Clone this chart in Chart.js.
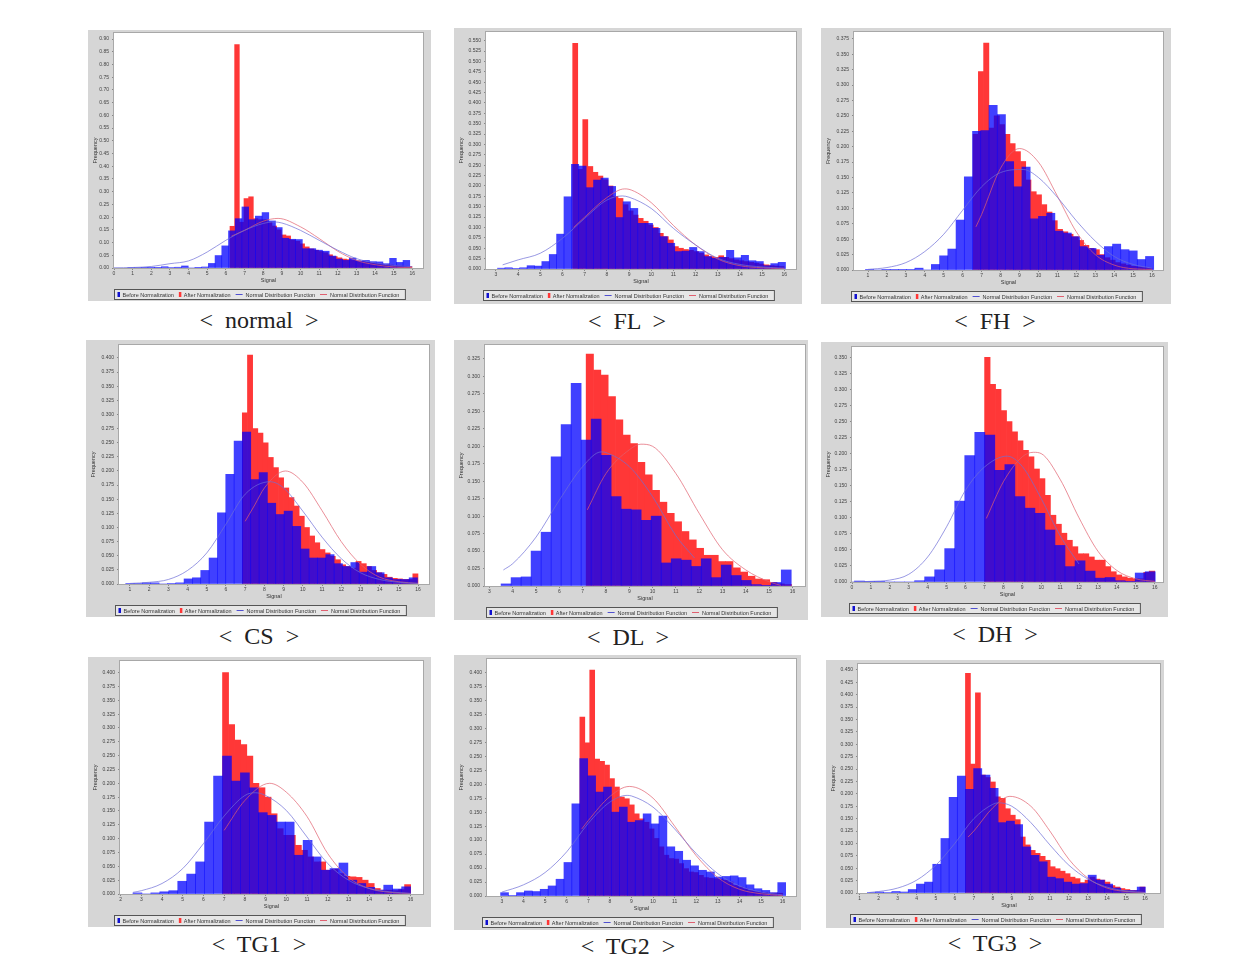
<!DOCTYPE html>
<html>
<head>
<meta charset="utf-8">
<script src="https://cdn.jsdelivr.net/npm/chart.js@4.4.1/dist/chart.umd.min.js"></script>
<style>
  body { margin: 0; background: #fff; width: 1245px; height: 970px; position: relative; overflow: hidden; }
  .panel { position: absolute; background: #d6d6d6; }
  .panel canvas { display: block; }
  .caption {
    position: absolute; transform: translateX(-50%); white-space: nowrap;
    font-family: "Liberation Serif", "Times New Roman", serif; font-size: 24px; line-height: 26px;
    color: #222; word-spacing: 6px;
  }
</style>
</head>
<body>
<script>
// ---- data ----
const seriesLabels = ['Before Normalization', 'After Normalization', 'Normal Distribution Function', 'Normal Distribution Function'];
const panelNames = ['normal', 'FL', 'FH', 'CS', 'DL', 'DH', 'TG1', 'TG2', 'TG3'];
const xTickValues = [0, 1, 2, 3, 4, 5, 6, 7, 8, 9, 10, 11, 12, 13, 14, 15, 16];
const yTicks05 = [0, 0.05, 0.1, 0.15, 0.2, 0.25, 0.3, 0.35, 0.4, 0.45, 0.5, 0.55, 0.6, 0.65, 0.7, 0.75, 0.8, 0.85, 0.9];
const yTicks025 = [0, 0.025, 0.05, 0.075, 0.1, 0.125, 0.15, 0.175, 0.2, 0.225, 0.25, 0.275, 0.3, 0.325, 0.35, 0.375, 0.4, 0.425, 0.45, 0.475, 0.5, 0.525, 0.55];

// bins: [before start, before width, after start, after width]
const normalBins = [0.74, 0.36, 6.22, 0.25];
const normalBefore = [0.002, 0.002, 0.001, 0.003, 0.001, 0.005, 0.002, 0.003, 0.008, 0, 0.001, 0.004, 0.018, 0.049, 0.087, 0.146, 0.194, 0.24, 0.19, 0.204, 0.218, 0.185, 0.159, 0.117, 0.113, 0.112, 0.076, 0.076, 0.07, 0.066, 0.047, 0.035, 0.03, 0.039, 0.028, 0.03, 0.025, 0.024, 0.017, 0.038, 0.022, 0.03];
const normalAfter = [0.164, 0.878, 0.18, 0.273, 0.28, 0.194, 0.19, 0.19, 0.18, 0.165, 0.15, 0.13, 0.126, 0.11, 0.105, 0.095, 0.083, 0.075, 0.07, 0.065, 0.06, 0.052, 0.045, 0.04, 0.035, 0.033, 0.03, 0.028, 0.025, 0.022, 0.02, 0.018, 0.015, 0.013, 0.012, 0.01, 0.008, 0.007, 0.006];
const normalCurveBefore = [[0, 0.001], [1, 0.002], [2, 0.006], [3, 0.017], [4, 0.028], [5, 0.063], [6, 0.109], [7, 0.148], [8, 0.175], [8.6, 0.181], [9, 0.177], [10, 0.148], [11, 0.109], [12, 0.07], [13, 0.037], [14, 0.02], [15, 0.01], [16, 0.005]];
const normalCurveAfter = [[6.3, 0.125], [7, 0.148], [8, 0.184], [8.8, 0.195], [10, 0.162], [11, 0.116], [12, 0.066], [13, 0.03], [14, 0.013], [15, 0.004], [16, 0.001]];

const flBins = [3.07, 0.333, 6.46, 0.227];
const flBefore = [0.002, 0.003, 0.001, 0.003, 0.008, 0.007, 0.018, 0.035, 0.084, 0.174, 0.252, 0.248, 0.196, 0.214, 0.219, 0.199, 0.124, 0.162, 0.146, 0.11, 0.11, 0.098, 0.078, 0.062, 0.042, 0.043, 0.052, 0.042, 0.03, 0.026, 0.028, 0.045, 0.027, 0.033, 0.02, 0.018, 0.008, 0.013, 0.016];
const flAfter = [0.544, 0.24, 0.36, 0.247, 0.233, 0.224, 0.215, 0.2, 0.175, 0.17, 0.155, 0.14, 0.13, 0.122, 0.115, 0.106, 0.1, 0.086, 0.078, 0.07, 0.054, 0.05, 0.047, 0.045, 0.042, 0.038, 0.034, 0.03, 0.028, 0.032, 0.028, 0.025, 0.022, 0.02, 0.018, 0.016, 0.014, 0.012, 0.01, 0.008, 0.007, 0.006];
const flCurveBefore = [[3.3, 0.01], [4, 0.022], [5, 0.038], [6, 0.074], [7, 0.122], [8, 0.166], [8.7, 0.176], [9, 0.173], [10, 0.146], [11, 0.098], [12, 0.058], [13, 0.026], [14, 0.011], [15, 0.005], [16, 0.002]];
const flCurveAfter = [[6.5, 0.1], [7, 0.125], [8, 0.172], [8.8, 0.193], [9, 0.192], [10, 0.16], [11, 0.105], [12, 0.058], [13, 0.024], [14, 0.008], [15, 0.003], [16, 0.001]];

const fhBins = [0.865, 0.435, 6.55, 0.278];
const fhBefore = [0.001, 0, 0.001, 0.001, 0.001, 0.001, 0.003, 0, 0.009, 0.023, 0.034, 0.081, 0.151, 0.225, 0.226, 0.267, 0.252, 0.176, 0.135, 0.167, 0.083, 0.087, 0.092, 0.063, 0.06, 0.054, 0.038, 0.035, 0.024, 0.038, 0.042, 0.033, 0.031, 0.017, 0.022];
const fhAfter = [0.22, 0.322, 0.368, 0.23, 0.25, 0.236, 0.22, 0.205, 0.192, 0.176, 0.146, 0.127, 0.122, 0.106, 0.094, 0.08, 0.066, 0.062, 0.058, 0.054, 0.048, 0.04, 0.035, 0.033, 0.025, 0.02, 0.016, 0.012, 0.01, 0.008, 0.006, 0.005, 0.004, 0.003];
const fhCurveBefore = [[1, 0.001], [2, 0.004], [3, 0.012], [4, 0.03], [5, 0.058], [6, 0.097], [7, 0.135], [8, 0.158], [9.2, 0.163], [10, 0.15], [11, 0.118], [12, 0.08], [13, 0.047], [14, 0.022], [15, 0.009], [16, 0.003]];
const fhCurveAfter = [[6.7, 0.07], [7, 0.09], [8, 0.165], [9, 0.197], [10, 0.175], [11, 0.12], [12, 0.062], [13, 0.025], [14, 0.008], [15, 0.002], [16, 0.001]];

const csBins = [0.78, 0.434, 6.85, 0.269];
const csBefore = [0.001, 0.001, 0.002, 0.002, 0, 0.001, 0.002, 0.009, 0.011, 0.024, 0.046, 0.126, 0.194, 0.253, 0.269, 0.185, 0.197, 0.143, 0.123, 0.129, 0.102, 0.062, 0.046, 0.046, 0.052, 0.036, 0.031, 0.038, 0.021, 0.031, 0.02, 0.011, 0.008, 0.008, 0.011];
const csAfter = [0.303, 0.405, 0.275, 0.267, 0.25, 0.224, 0.206, 0.188, 0.17, 0.153, 0.138, 0.12, 0.1, 0.085, 0.073, 0.061, 0.055, 0.049, 0.043, 0.034, 0.031, 0.028, 0.04, 0.036, 0.031, 0.024, 0.02, 0.017, 0.012, 0.01, 0.009, 0.008, 0.008, 0.018];
const csCurveBefore = [[1, 0.001], [2, 0.003], [3, 0.008], [4, 0.024], [5, 0.055], [6, 0.106], [7, 0.159], [8.3, 0.181], [9, 0.17], [10, 0.129], [11, 0.083], [12, 0.045], [13, 0.02], [14, 0.008], [15, 0.003], [16, 0.001]];
const csCurveAfter = [[7, 0.111], [7.5, 0.14], [8, 0.17], [9.1, 0.2], [10, 0.18], [11, 0.13], [12, 0.075], [13, 0.035], [14, 0.012], [15, 0.004], [16, 0.001]];

const dlBins = [3.5, 0.4293, 7.15, 0.315];
const dlBefore = [0.003, 0.012, 0.013, 0.05, 0.077, 0.185, 0.231, 0.29, 0.209, 0.239, 0.187, 0.128, 0.11, 0.109, 0.094, 0.1, 0.033, 0.039, 0.037, 0.028, 0.039, 0.012, 0.03, 0.015, 0.008, 0.002, 0.001, 0.005, 0.023];
const dlAfter = [0.332, 0.309, 0.302, 0.271, 0.238, 0.216, 0.204, 0.177, 0.159, 0.137, 0.12, 0.104, 0.092, 0.078, 0.066, 0.054, 0.044, 0.044, 0.035, 0.035, 0.026, 0.02, 0.014, 0.01, 0.009, 0.005, 0.003, 0.002];
const dlCurveBefore = [[3.6, 0.023], [4, 0.032], [5, 0.07], [6, 0.123], [7, 0.171], [7.8, 0.192], [8, 0.191], [9, 0.171], [10, 0.128], [11, 0.072], [11.8, 0.04]];
const dlCurveAfter = [[7.2, 0.109], [8, 0.161], [9, 0.195], [9.5, 0.203], [10, 0.2], [11, 0.161], [12, 0.104], [13, 0.052], [14, 0.023], [15, 0.006], [15.5, 0.001]];

const dhBins = [0.13, 0.53, 7.01, 0.29];
const dhBefore = [0.0015, 0.001, 0.001, 0, 0, 0, 0.002, 0.008, 0.019, 0.052, 0.126, 0.197, 0.233, 0.229, 0.174, 0.183, 0.133, 0.115, 0.107, 0.081, 0.057, 0.024, 0.033, 0.017, 0.006, 0.007, 0.002, 0.001, 0.014, 0.016];
const dhAfter = [0.35, 0.308, 0.3, 0.267, 0.25, 0.234, 0.22, 0.205, 0.195, 0.176, 0.161, 0.135, 0.104, 0.09, 0.076, 0.065, 0.055, 0.044, 0.044, 0.039, 0.034, 0.034, 0.024, 0.016, 0.011, 0.008, 0.006, 0.005, 0.005, 0.015, 0.017];
const dhCurveBefore = [[0, 0], [1, 0.001], [2, 0.003], [3, 0.012], [4, 0.039], [5, 0.086], [6, 0.143], [7, 0.179], [8.2, 0.196], [9, 0.18], [10, 0.13], [11, 0.072], [12, 0.028]];
const dhCurveAfter = [[7.1, 0.099], [8, 0.156], [9, 0.195], [9.6, 0.202], [10, 0.2], [11, 0.16], [12, 0.1], [13, 0.048], [14, 0.018], [15, 0.005], [16, 0.001]];

const tg1Bins = [2.596, 0.4324, 6.92, 0.293];
const tg1Before = [0.002, 0, 0.002, 0.004, 0.006, 0.023, 0.036, 0.058, 0.13, 0.213, 0.249, 0.204, 0.219, 0.192, 0.147, 0.142, 0.13, 0.13, 0.07, 0.097, 0.067, 0.043, 0.046, 0.056, 0.025, 0.019, 0.012, 0.007, 0.016, 0.009, 0.013];
const tg1After = [0.4, 0.306, 0.278, 0.27, 0.249, 0.2, 0.192, 0.175, 0.145, 0.118, 0.106, 0.106, 0.088, 0.079, 0.067, 0.058, 0.058, 0.043, 0.045, 0.037, 0.032, 0.031, 0.03, 0.025, 0.019, 0.01, 0.007, 0.007, 0.006, 0.008, 0.017];
const tg1CurveBefore = [[2.6, 0.003], [3, 0.006], [4, 0.019], [5, 0.046], [6, 0.091], [7, 0.141], [8, 0.178], [8.5, 0.183], [9, 0.178], [10, 0.151], [11, 0.103], [12, 0.055], [13, 0.025], [14, 0.01], [15, 0.004], [16, 0.001]];
const tg1CurveAfter = [[7, 0.115], [8, 0.169], [9.2, 0.2], [10, 0.184], [11, 0.14], [12, 0.073], [13, 0.03], [14, 0.01], [15, 0.003], [16, 0.001]];

const tg2Bins = [2.94, 0.3667, 6.61, 0.229];
const tg2Before = [0.006, 0.001, 0.006, 0.009, 0.008, 0.012, 0.018, 0.03, 0.06, 0.165, 0.246, 0.215, 0.186, 0.195, 0.15, 0.159, 0.132, 0.135, 0.147, 0.129, 0.143, 0.088, 0.08, 0.064, 0.054, 0.046, 0.043, 0.034, 0.035, 0.036, 0.033, 0.02, 0.013, 0.01, 0.006, 0.024];
const tg2After = [0.32, 0.274, 0.404, 0.245, 0.241, 0.234, 0.21, 0.195, 0.177, 0.174, 0.163, 0.147, 0.138, 0.132, 0.12, 0.103, 0.088, 0.073, 0.067, 0.066, 0.058, 0.049, 0.043, 0.042, 0.037, 0.033, 0.032, 0.031, 0.03, 0.028, 0.025, 0.019, 0.016, 0.013, 0.01, 0.008, 0.007, 0.006, 0.005, 0.005, 0.005];
const tg2CurveBefore = [[3, 0.007], [4, 0.02], [5, 0.042], [6, 0.079], [7, 0.13], [8, 0.168], [8.8, 0.18], [9, 0.179], [10, 0.159], [11, 0.12], [12, 0.076], [13, 0.04], [14, 0.018], [15, 0.007], [16, 0.002]];
const tg2CurveAfter = [[6.7, 0.12], [7, 0.135], [8, 0.178], [8.9, 0.196], [10, 0.175], [11, 0.125], [12, 0.072], [13, 0.033], [14, 0.012], [15, 0.004], [16, 0.001]];

const tg3Bins = [1.4, 0.43, 6.56, 0.262];
const tg3Before = [0.001, 0.002, 0.001, 0.003, 0.002, 0.007, 0.018, 0.022, 0.058, 0.11, 0.193, 0.236, 0.209, 0.251, 0.238, 0.211, 0.142, 0.145, 0.138, 0.093, 0.076, 0.063, 0.032, 0.029, 0.022, 0.018, 0.019, 0.036, 0.026, 0.018, 0.01, 0.005, 0.005, 0.012];
const tg3After = [0.443, 0.26, 0.404, 0.238, 0.233, 0.224, 0.194, 0.191, 0.17, 0.157, 0.148, 0.113, 0.097, 0.086, 0.08, 0.074, 0.066, 0.053, 0.049, 0.044, 0.039, 0.032, 0.029, 0.021, 0.026, 0.032, 0.028, 0.026, 0.022, 0.015, 0.012, 0.009, 0.007, 0.005, 0.005, 0.012];
const tg3CurveBefore = [[1.5, 0.001], [2, 0.003], [3, 0.01], [4, 0.026], [5, 0.056], [6, 0.1], [7, 0.15], [8, 0.179], [8.3, 0.182], [9, 0.175], [10, 0.142], [11, 0.097], [12, 0.056], [13, 0.028], [14, 0.012], [15, 0.004], [16, 0.001]];
const tg3CurveAfter = [[6.7, 0.113], [7, 0.125], [8, 0.172], [8.9, 0.195], [10, 0.175], [11, 0.125], [12, 0.068], [13, 0.03], [14, 0.01], [15, 0.003], [16, 0.001]];

const panels = [
  [normalBins, normalBefore, normalAfter, normalCurveBefore, normalCurveAfter],
  [flBins, flBefore, flAfter, flCurveBefore, flCurveAfter],
  [fhBins, fhBefore, fhAfter, fhCurveBefore, fhCurveAfter],
  [csBins, csBefore, csAfter, csCurveBefore, csCurveAfter],
  [dlBins, dlBefore, dlAfter, dlCurveBefore, dlCurveAfter],
  [dhBins, dhBefore, dhAfter, dhCurveBefore, dhCurveAfter],
  [tg1Bins, tg1Before, tg1After, tg1CurveBefore, tg1CurveAfter],
  [tg2Bins, tg2Before, tg2After, tg2CurveBefore, tg2CurveAfter],
  [tg3Bins, tg3Before, tg3After, tg3CurveBefore, tg3CurveAfter]
];

// ---- layout: panel box, plot area (page px), x range, y max, y step ----
const layouts = [
  [88, 30, 343, 271, 114, 33, 423, 268, 0, 16.57, 0.924, 0.05],
  [454, 28, 348, 276, 486, 32, 796, 269, 2.55, 16.53, 0.571, 0.025],
  [821, 28, 350, 276, 854, 32, 1163, 270, 0.26, 16.58, 0.386, 0.025],
  [86, 340, 349, 277, 119, 345, 429, 584, 0.43, 16.57, 0.423, 0.025],
  [454, 340, 354, 280, 485, 345, 805, 586, 2.81, 16.54, 0.345, 0.025],
  [821, 342, 347, 275, 852, 347, 1163, 582, 0, 16.44, 0.366, 0.025],
  [88, 657, 343, 270, 120, 661, 423, 894, 1.97, 16.6, 0.421, 0.025],
  [454, 655, 347, 275, 487, 659, 796, 896, 2.31, 16.62, 0.424, 0.025],
  [826, 660, 338, 268, 858, 664, 1160, 893, 0.91, 16.79, 0.462, 0.025]
];
const captionPos = [[259, 307], [627, 308], [995, 308], [259, 623], [628, 624], [995, 621], [259, 931], [628, 933], [995, 930]];

const BLUE = 'rgba(0, 0, 255, 0.75)';
const RED = 'rgb(255, 55, 55)';
const FONT = '"Liberation Sans", Arial, sans-serif';
Chart.defaults.font.family = FONT;

function toBars(values, start, width) {
  return values.map((v, i) => ({ x: start + width * (i + 0.5), y: v }));
}

const plotFrame = {
  id: 'plotFrame',
  beforeDatasetsDraw(chart) {
    const { ctx, chartArea: a } = chart;
    ctx.save();
    ctx.fillStyle = '#ffffff';
    ctx.fillRect(a.left, a.top, a.right - a.left, a.bottom - a.top);
    ctx.restore();
  },
  afterDraw(chart) {
    const { ctx, chartArea: a } = chart;
    ctx.save();
    ctx.strokeStyle = '#a8a8a8';
    ctx.lineWidth = 1;
    ctx.strokeRect(Math.round(a.left) - 0.5, Math.round(a.top) - 0.5, Math.round(a.right - a.left) + 1, Math.round(a.bottom - a.top) + 1);

    // legend box below the axis title
    ctx.font = '5.5px ' + FONT;
    ctx.textBaseline = 'middle';
    const items = chart.data.datasets.map(ds => ({ label: ds.label, color: ds.type === 'line' ? ds.legendColor : ds.backgroundColor, line: ds.type === 'line' }));
    let total = 4;
    items.forEach(it => { total += (it.line ? 10 : 5) + ctx.measureText(it.label).width + 5; });
    let x = Math.round((chart.width - total) / 2) + 0.5;
    const y = Math.round(a.bottom + 21) + 0.5;
    ctx.fillStyle = '#e6e6e6';
    ctx.fillRect(x, y, total, 10);
    ctx.strokeStyle = '#555';
    ctx.strokeRect(x, y, total, 10);
    x += 3;
    items.forEach(it => {
      if (it.line) {
        ctx.strokeStyle = it.color;
        ctx.beginPath(); ctx.moveTo(x, y + 5); ctx.lineTo(x + 7, y + 5); ctx.stroke();
        x += 10;
      } else {
        ctx.fillStyle = it.color === BLUE ? '#1010d0' : RED;
        ctx.fillRect(x, y + 2.5, 2.5, 5);
        x += 5;
      }
      ctx.fillStyle = '#333';
      ctx.fillText(it.label, x, y + 5.5);
      x += ctx.measureText(it.label).width + 5;
    });
    ctx.restore();
  }
};

panels.forEach((p, k) => {
  const [bins, before, after, curveBefore, curveAfter] = p;
  const [bx, by, bw, bh, al, at, ar, ab, xMin, xMax, yMax, yStep] = layouts[k];
  const axisH = 16;

  const div = document.createElement('div');
  div.className = 'panel';
  Object.assign(div.style, { left: bx + 'px', top: by + 'px', width: bw + 'px', height: bh + 'px' });
  const canvas = document.createElement('canvas');
  canvas.width = bw; canvas.height = bh;
  canvas.style.width = bw + 'px'; canvas.style.height = bh + 'px';
  div.appendChild(canvas);
  document.body.appendChild(div);

  const cap = document.createElement('div');
  cap.className = 'caption';
  cap.textContent = '< ' + panelNames[k] + ' >';
  cap.style.left = captionPos[k][0] + 'px';
  cap.style.top = captionPos[k][1] + 'px';
  document.body.appendChild(cap);

  const dec = yStep === 0.05 ? 2 : 3;
  const yTicks = (yStep === 0.05 ? yTicks05 : yTicks025).filter(v => v <= yMax + 1e-9);
  const xTicks = xTickValues.filter(v => v >= xMin - 1e-9 && v <= xMax);
  const hiddenX = { type: 'linear', display: false, min: xMin, max: xMax, offset: false, grid: { offset: false } };

  new Chart(canvas, {
    type: 'bar',
    data: {
      datasets: [
        { label: seriesLabels[0], data: toBars(before, bins[0], bins[1]), xAxisID: 'xb', backgroundColor: BLUE,
          borderWidth: 0, grouped: false, barPercentage: 1, categoryPercentage: 1, order: 1 },
        { label: seriesLabels[1], data: toBars(after, bins[2], bins[3]), xAxisID: 'xr', backgroundColor: RED,
          borderWidth: 0, grouped: false, barPercentage: 1, categoryPercentage: 1, order: 2 },
        { type: 'line', label: seriesLabels[2], data: curveBefore, xAxisID: 'x', borderColor: 'rgba(110, 110, 215, 0.7)',
          legendColor: '#5050d0', borderWidth: 1, pointRadius: 0, cubicInterpolationMode: 'monotone', order: 0 },
        { type: 'line', label: seriesLabels[3], data: curveAfter, xAxisID: 'x', borderColor: 'rgba(225, 95, 110, 0.7)',
          legendColor: '#e06070', borderWidth: 1, pointRadius: 0, cubicInterpolationMode: 'monotone', order: 0 }
      ]
    },
    options: {
      responsive: false,
      animation: false,
      devicePixelRatio: 1,
      events: [],
      layout: { padding: { left: 4, top: at - by, right: bx + bw - ar, bottom: by + bh - ab - axisH } },
      plugins: { legend: { display: false }, tooltip: { enabled: false } },
      scales: {
        x: {
          type: 'linear', position: 'bottom', min: xMin, max: xMax, offset: false,
          grid: { offset: false, drawOnChartArea: false, drawTicks: true, tickLength: 2, color: '#888' },
          border: { color: '#999' },
          ticks: { font: { size: 5 }, color: '#444', padding: 1, maxRotation: 0, autoSkip: false, callback: v => String(v) },
          title: { display: true, text: 'Signal', font: { size: 5.5 }, color: '#333', padding: { top: 0, bottom: 0.5 } },
          afterBuildTicks: s => { s.ticks = xTicks.map(v => ({ value: v })); },
          afterFit: s => { s.height = axisH; s.paddingLeft = 0; s.paddingRight = 0; }
        },
        xb: hiddenX,
        xr: Object.assign({}, hiddenX),
        y: {
          type: 'linear', min: 0, max: yMax,
          grid: { drawOnChartArea: false, drawTicks: true, tickLength: 2, color: '#888' },
          border: { color: '#999' },
          ticks: { font: { size: 5 }, color: '#444', padding: 3, autoSkip: false, callback: v => v.toFixed(dec) },
          title: { display: true, text: 'Frequency', font: { size: 5.5 }, color: '#333', padding: 0 },
          afterBuildTicks: s => { s.ticks = yTicks.map(v => ({ value: v })); },
          afterFit: s => { s.width = al - bx - 4; s.paddingTop = 0; s.paddingBottom = 0; }
        }
      }
    },
    plugins: [plotFrame]
  });
});
</script>
</body>
</html>
